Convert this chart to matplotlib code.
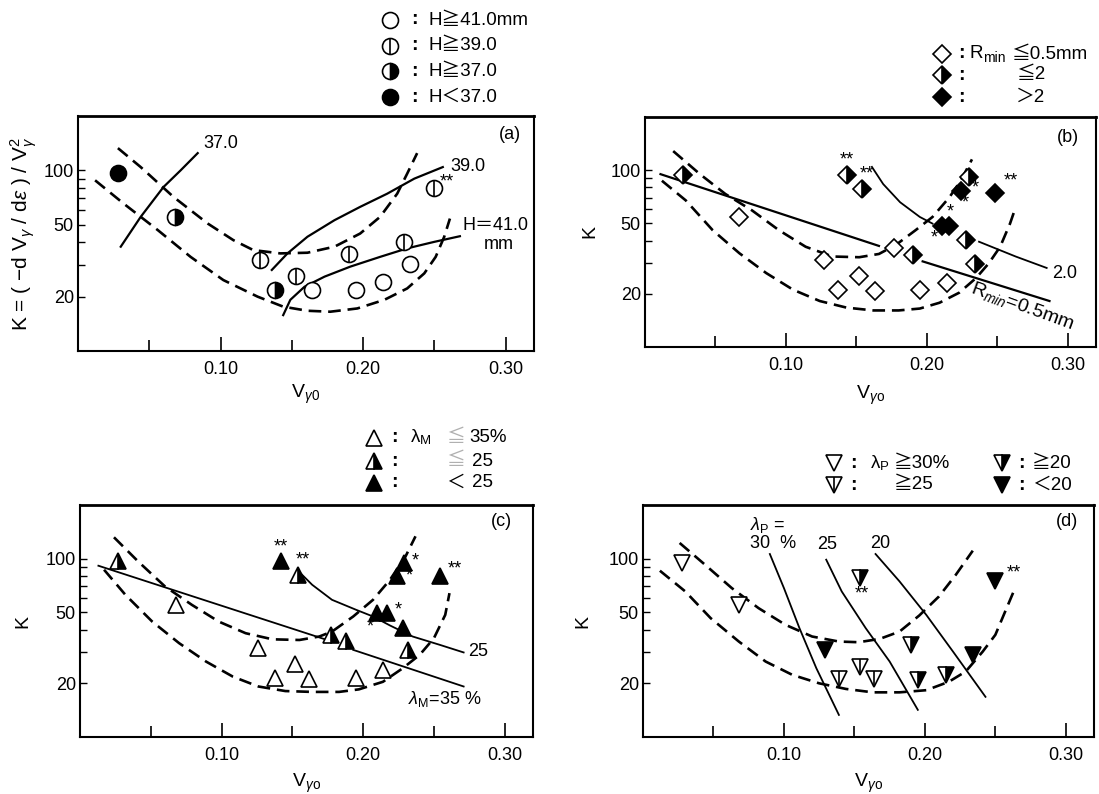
import numpy as np
import matplotlib.pyplot as plt
from matplotlib.lines import Line2D
from matplotlib.ticker import NullFormatter

plt.rcParams['font.family'] = ['Liberation Sans', 'Noto Sans CJK JP', 'DejaVu Sans']
plt.rcParams['mathtext.fontset'] = 'custom'
plt.rcParams['mathtext.rm'] = 'Liberation Sans'
plt.rcParams['mathtext.it'] = 'Liberation Sans:italic'

W, H = 1099, 794
nan = np.nan
FS = 13

#---------------- panel (a) : height H ----------------#
a_open_x = [0.164, 0.195, 0.214, 0.233]
a_open_y = [21.8, 21.8, 24.2, 30.5]
a_vline_x = [0.128, 0.153, 0.190, 0.229, 0.250]
a_vline_y = [31.9, 26.0, 34.4, 40.2, 80.2]
a_half_x = [0.068, 0.138]
a_half_y = [55.3, 21.8]
a_fill_x = [0.028]
a_fill_y = [96.7]
a_up_x = [0.028, 0.044, 0.067, 0.091, 0.109, 0.123, 0.142, 0.161, 0.180, 0.198, 0.212, 0.224, 0.231, 0.238]
a_up_y = [132.8, 104.3, 71.3, 50.8, 41.1, 36.2, 34.7, 35.0, 37.8, 44.7, 55.3, 74.3, 95.9, 124.6]
a_lo_x = [0.012, 0.032, 0.056, 0.079, 0.102, 0.126, 0.144, 0.161, 0.177, 0.196, 0.215, 0.231, 0.243, 0.251, 0.257, 0.261]
a_lo_y = [88.1, 65.5, 46.7, 33.2, 24.7, 20.0, 17.6, 16.7, 16.5, 17.2, 19.2, 22.2, 26.9, 33.2, 42.9, 54.1]
a_h37_x = [0.030, 0.044, 0.060, 0.072, 0.084]
a_h37_y = [37.8, 55.3, 80.9, 100.0, 124.6]
a_h39_x = [0.136, 0.147, 0.161, 0.180, 0.198, 0.217, 0.236, 0.256]
a_h39_y = [28.1, 34.7, 42.9, 53.0, 62.8, 74.3, 90.0, 104.3]
a_h41_x = [0.144, 0.149, 0.159, 0.173, 0.191, 0.212, 0.231, 0.250, 0.268]
a_h41_y = [15.8, 19.2, 22.7, 25.8, 29.3, 33.2, 37.0, 40.2, 43.2]

#---------------- panel (b) : Rmin ----------------#
b_open_x = [0.067, 0.127, 0.137, 0.152, 0.163, 0.177, 0.195, 0.214]
b_open_y = [54.4, 31.1, 20.9, 25.1, 20.7, 36.2, 20.9, 23.0]
b_half_x = [0.027, 0.143, 0.154, 0.190, 0.230, 0.228, 0.234]
b_half_y = [94.2, 94.2, 78.3, 33.2, 91.0, 40.3, 29.6]
b_fill_x = [0.224, 0.211, 0.216, 0.248]
b_fill_y = [76.6, 48.2, 48.2, 74.1]
b_up_x = [0.020, 0.039, 0.057, 0.076, 0.095, 0.114, 0.133, 0.152, 0.166, 0.178, 0.192, 0.204, 0.216, 0.224, 0.232]
b_up_y = [128.3, 95.0, 73.4, 59.2, 45.8, 36.9, 32.5, 32.2, 33.6, 37.8, 45.8, 54.4, 70.3, 87.2, 115.2]
b_lo_x = [0.012, 0.029, 0.048, 0.067, 0.086, 0.105, 0.124, 0.143, 0.162, 0.180, 0.195, 0.209, 0.223, 0.235, 0.244, 0.252, 0.259, 0.263]
b_lo_y = [87.2, 67.4, 45.8, 33.9, 26.2, 21.1, 18.2, 16.7, 16.1, 16.1, 16.5, 17.8, 20.3, 24.6, 29.8, 36.9, 49.9, 61.8]
b_r05_x = [0.011, 0.166, nan, 0.197, 0.287]
b_r05_y = [95.0, 37.3, nan, 30.5, 18.2]
b_r20_x = [0.161, 0.169, 0.181, 0.195, 0.204, nan, 0.237, 0.263, 0.285]
b_r20_y = [104.4, 83.5, 65.9, 54.4, 49.9, nan, 39.4, 32.5, 28.0]

#---------------- panel (c) : lambda M ----------------#
c_open_x = [0.068, 0.126, 0.138, 0.152, 0.162, 0.195, 0.214]
c_open_y = [55.1, 31.7, 21.3, 25.6, 21.1, 21.3, 23.8]
c_half_x = [0.027, 0.154, 0.177, 0.188, 0.232]
c_half_y = [96.6, 81.3, 37.4, 34.6, 30.8]
c_fill_x = [0.142, 0.229, 0.224, 0.210, 0.217, 0.228, 0.254]
c_fill_y = [97.4, 94.5, 79.6, 49.5, 49.5, 40.8, 79.6]
c_up_x = [0.024, 0.041, 0.060, 0.079, 0.098, 0.117, 0.136, 0.155, 0.169, 0.178, 0.193, 0.207, 0.219, 0.230, 0.237]
c_up_y = [131.8, 96.6, 69.9, 55.1, 44.4, 38.2, 35.3, 35.0, 36.6, 39.0, 47.4, 58.8, 76.2, 103.1, 133.5]
c_lo_x = [0.017, 0.032, 0.051, 0.070, 0.089, 0.108, 0.126, 0.145, 0.164, 0.183, 0.197, 0.214, 0.228, 0.240, 0.250, 0.258, 0.261]
c_lo_y = [86.7, 62.8, 44.4, 33.6, 26.5, 21.8, 19.2, 18.1, 17.9, 17.9, 18.5, 20.4, 24.3, 28.9, 35.8, 48.4, 64.1]
c_m35_x = [0.013, 0.178, nan, 0.193, 0.271]
c_m35_y = [91.3, 34.3, nan, 30.8, 19.2]
c_m25_x = [0.154, 0.164, 0.178, 0.195, 0.207, 0.219, 0.235, 0.254, 0.271]
c_m25_y = [85.6, 71.4, 58.8, 51.7, 47.4, 42.2, 36.6, 32.9, 29.8]

#---------------- panel (d) : lambda P ----------------#
d_open_x = [0.028, 0.068]
d_open_y = [94.5, 55.1]
d_vline_x = [0.139, 0.154, 0.164]
d_vline_y = [21.2, 24.8, 21.1]
d_half_x = [0.154, 0.190, 0.195, 0.215]
d_half_y = [77.9, 32.6, 20.9, 22.3]
d_fill_x = [0.129, 0.234, 0.250]
d_fill_y = [30.8, 28.9, 75.2]
d_up_x = [0.026, 0.044, 0.063, 0.082, 0.101, 0.120, 0.139, 0.153, 0.168, 0.182, 0.196, 0.210, 0.222, 0.234]
d_up_y = [122.5, 92.5, 68.4, 52.8, 42.6, 36.6, 34.3, 34.0, 35.5, 39.0, 48.0, 61.4, 81.3, 110.9]
d_lo_x = [0.012, 0.030, 0.048, 0.068, 0.087, 0.106, 0.125, 0.144, 0.163, 0.182, 0.201, 0.217, 0.229, 0.241, 0.250, 0.257, 0.263]
d_lo_y = [85.6, 65.5, 46.4, 34.3, 26.5, 22.3, 20.0, 18.6, 17.8, 17.8, 18.3, 20.4, 23.3, 30.1, 37.4, 50.6, 65.5]
d_p30_x = [0.090, 0.100, 0.111, 0.123, 0.139]
d_p30_y = [106.2, 68.4, 40.8, 24.3, 13.3]
d_p25_x = [0.130, 0.141, 0.158, 0.175, 0.195]
d_p25_y = [98.7, 65.5, 40.8, 26.5, 14.2]
d_p20_x = [0.165, 0.182, 0.201, 0.220, 0.243]
d_p20_y = [106.2, 74.6, 48.4, 30.1, 16.8]

#------------- figure ---------------#
fig = plt.figure(figsize=(W / 100, H / 100), dpi=100)

def px_axes(l, t, r, b):
    return fig.add_axes([l / W, 1 - b / H, (r - l) / W, (b - t) / H])

ax_a = px_axes(78, 116, 534, 351)
ax_b = px_axes(645, 117, 1096, 347)
ax_c = px_axes(80, 505, 533, 737)
ax_d = px_axes(643, 505, 1094, 737)

MEW = 1.2
DASH = dict(color='black', lw=1.9, dashes=(4.8, 2.6))
THICK = dict(color='black', lw=1.6)
THIN = dict(color='black', lw=1.3)
MS_O, MS_D, MS_T = 11.5, 9.0, 11.2


def pts(ax, xs, ys, marker, kind, ms, trans=None):
    kw = dict(ls='none', marker=marker, ms=ms, mec='black', mew=MEW, clip_on=False)
    if trans is not None:
        kw['transform'] = trans
    if kind == 'open' or kind == 'vline':
        kw.update(mfc='white')
    elif kind == 'half':
        kw.update(mfc='black', markerfacecoloralt='white', fillstyle='right')
    else:
        kw.update(mfc='black')
    if trans is None:
        ax.plot(xs, ys, **kw)
    else:
        fig.add_artist(Line2D(xs, ys, **kw))
    if kind == 'vline':
        kw2 = dict(ls='none', marker='|', ms=ms, mec='black', mew=MEW, clip_on=False)
        if trans is None:
            ax.plot(xs, ys, **kw2)
        else:
            kw2['transform'] = trans
            fig.add_artist(Line2D(xs, ys, **kw2))


def star(ax, x, y, s, dx, dy):
    # dx, dy offsets in pixels
    ax.annotate(s, (x, y), xytext=(dx * 0.72, dy * 0.72), textcoords='offset points',
                ha='center', va='center', fontsize=FS)


def setup(ax, tag, tagx, tagy, xlabel, xly, ylabel, ylx, ylfs=FS + 1):
    ax.set_yscale('log')
    ax.set_xlim(0, 0.32)
    ax.set_ylim(10, 200)
    ax.set_xticks([0.1, 0.2, 0.3])
    ax.set_xticklabels(['0.10', '0.20', '0.30'])
    ax.set_xticks([0.05, 0.15, 0.25], minor=True)
    ax.set_yticks([20, 50, 100])
    ax.set_yticklabels(['20', '50', '100'])
    ax.set_yticks([30, 40, 60, 70, 80, 90], minor=True)
    ax.yaxis.set_minor_formatter(NullFormatter())
    ax.tick_params(which='both', direction='in', labelsize=FS, colors='black')
    ax.tick_params(axis='x', which='major', length=10, width=1.2, pad=7)
    ax.tick_params(axis='x', which='minor', length=8, width=1.2)
    ax.tick_params(axis='y', which='both', length=5, width=1.0, pad=3)
    for sp in ax.spines.values():
        sp.set_linewidth(1.5)
    ax.spines['top'].set_linewidth(2.0)
    ax.text(tagx, tagy, tag, transform=ax.transAxes, ha='center', va='center', fontsize=FS)
    ax.set_xlabel(xlabel, fontsize=FS + 1, va='center')
    ax.xaxis.set_label_coords(0.5, xly)
    ax.set_ylabel(ylabel, fontsize=ylfs, va='center')
    ax.yaxis.set_label_coords(ylx, 0.5)


#---------- (a) ----------#
ax = ax_a
ax.plot(a_up_x, a_up_y, **DASH)
ax.plot(a_lo_x, a_lo_y, **DASH)
ax.plot(a_h37_x, a_h37_y, **THICK)
ax.plot(a_h39_x, a_h39_y, **THICK)
ax.plot(a_h41_x, a_h41_y, **THICK)
pts(ax, a_open_x, a_open_y, 'o', 'open', MS_O)
pts(ax, a_vline_x, a_vline_y, 'o', 'vline', MS_O)
pts(ax, a_half_x, a_half_y, 'o', 'half', MS_O)
pts(ax, a_fill_x, a_fill_y, 'o', 'fill', MS_O)
star(ax, a_vline_x[4], a_vline_y[4], '**', 13, 6)
ax.text(0.088, 140, '37.0', fontsize=FS, va='center')
ax.text(0.261, 105, '39.0', fontsize=FS, va='center')
ax.text(0.270, 49.7, 'H＝41.0', fontsize=FS, va='center')
ax.text(0.306, 39, 'mm', fontsize=FS, va='center', ha='right')
setup(ax, '(a)', 0.947, 0.92, r'V$_{\gamma 0}$', -0.185,
      r'K = ( $-$d V$_\gamma$ / d$\varepsilon$ ) / V$_\gamma^2$', -0.12, ylfs=15)

#---------- (b) ----------#
ax = ax_b
ax.plot(b_up_x, b_up_y, **DASH)
ax.plot(b_lo_x, b_lo_y, **DASH)
ax.plot(b_r05_x, b_r05_y, **THICK)
ax.plot(b_r20_x, b_r20_y, **THIN)
pts(ax, b_open_x, b_open_y, 'D', 'open', MS_D)
pts(ax, b_fill_x, b_fill_y, 'D', 'fill', MS_D)
pts(ax, b_half_x, b_half_y, 'D', 'half', MS_D)
star(ax, b_half_x[1], b_half_y[1], '**', 0, 15)
star(ax, b_half_x[2], b_half_y[2], '**', 5, 15)
star(ax, b_fill_x[0], b_fill_y[0], '*', 15, 3)
star(ax, b_fill_x[0], b_fill_y[0], '*', 5, -12)
star(ax, b_fill_x[1], b_fill_y[1], '*', -8, -12)
star(ax, b_fill_x[2], b_fill_y[2], '*', 1, 14)
star(ax, b_fill_x[3], b_fill_y[3], '**', 16, 12)
ax.text(0.289, 26.2, '2.0', fontsize=FS, va='center')
ax.text(0.268, 17.0, r'R$_{min}$=0.5mm', fontsize=FS + 1, ha='center', va='center',
        rotation=-20, rotation_mode='anchor')
setup(ax, '(b)', 0.938, 0.909, r'V$_{\gamma\mathrm{o}}$', -0.21, 'K', -0.122)

#---------- (c) ----------#
ax = ax_c
ax.plot(c_up_x, c_up_y, **DASH)
ax.plot(c_lo_x, c_lo_y, **DASH)
ax.plot(c_m35_x, c_m35_y, **THIN)
ax.plot(c_m25_x, c_m25_y, **THIN)
pts(ax, c_open_x, c_open_y, '^', 'open', MS_T)
pts(ax, c_half_x, c_half_y, '^', 'half', MS_T)
pts(ax, c_fill_x, c_fill_y, '^', 'fill', MS_T)
star(ax, c_fill_x[0], c_fill_y[0], '**', 0, 14)
star(ax, c_half_x[1], c_half_y[1], '**', 5, 15)
star(ax, c_fill_x[1], c_fill_y[1], '*', 11, 2)
star(ax, c_fill_x[2], c_fill_y[2], '*', 12, 0)
star(ax, c_fill_x[3], c_fill_y[3], '*', -7, -14)
star(ax, c_fill_x[4], c_fill_y[4], '*', 11, 3)
star(ax, c_fill_x[6], c_fill_y[6], '**', 15, 7)
ax.text(0.274, 30.0, '25', fontsize=FS, va='center')
ax.text(0.232, 16.3, r'$\lambda_{\rm M}$=35 %', fontsize=FS, va='center')
setup(ax, '(c)', 0.93, 0.93, r'V$_{\gamma\mathrm{o}}$', -0.198, 'K', -0.126)

#---------- (d) ----------#
ax = ax_d
ax.plot(d_up_x, d_up_y, **DASH)
ax.plot(d_lo_x, d_lo_y, **DASH)
ax.plot(d_p30_x, d_p30_y, **THIN)
ax.plot(d_p25_x, d_p25_y, **THIN)
ax.plot(d_p20_x, d_p20_y, **THIN)
pts(ax, d_open_x, d_open_y, 'v', 'open', MS_T)
pts(ax, d_vline_x, d_vline_y, 'v', 'vline', MS_T)
pts(ax, d_half_x, d_half_y, 'v', 'half', MS_T)
pts(ax, d_fill_x, d_fill_y, 'v', 'fill', MS_T)
star(ax, d_half_x[0], d_half_y[0], '**', 2, -16)
star(ax, d_fill_x[2], d_fill_y[2], '**', 18, 8)
ax.text(0.076, 138, '$\\lambda_{\\rm P}$ =\n30  %', fontsize=FS, va='center', linespacing=1.0)
ax.text(0.1237, 120, '25', fontsize=FS, va='center')
ax.text(0.1608, 121, '20', fontsize=FS, va='center')
setup(ax, '(d)', 0.94, 0.927, r'V$_{\gamma\mathrm{o}}$', -0.198, 'K', -0.133)

#------------- legends above panels (figure pixels) ---------------#
def ftxt(px, py, s, **kw):
    kw.setdefault('fontsize', FS + 0.5)
    fig.text(px / W, 1 - py / H, s, ha='left', va='center', **kw)

def fmark(px, py, marker, kind, ms):
    pts(None, [px / W], [1 - py / H], marker, kind, ms, trans=fig.transFigure)

def colon(px, py):
    ftxt(px, py, ':', fontweight='bold', fontsize=14)

# (a)
leg_a = [('open', 'H≧41.0mm'), ('vline', 'H≧39.0'), ('half', 'H≧37.0'), ('fill', 'H＜37.0')]
for i, (kind, lab) in enumerate(leg_a):
    yy = 20 + i * 25.7
    fmark(390, yy, 'o', kind, MS_O)
    colon(411, yy)
    ftxt(428, yy, lab)

# (b)
leg_b_y = [54, 75, 97]
for kind, yy in zip(['open', 'half', 'fill'], leg_b_y):
    fmark(942, yy, 'D', kind, MS_D)
    colon(958, yy)
ftxt(970, 54, 'R')
ftxt(983, 58, 'min', fontsize=10)
ftxt(1011, 54, '≦0.5mm')
ftxt(1016, 75, '≦2')
ftxt(1016, 97, '＞2')

# (c)
leg_c_y = [438, 461, 483]
for kind, yy in zip(['open', 'half', 'fill'], leg_c_y):
    fmark(374, yy, '^', kind, MS_T)
    colon(391, yy)
ftxt(411, 438, 'λ')
ftxt(420, 441, 'M', fontsize=9.5)
ftxt(446, 438, '≦', color='#b0b0b0')
ftxt(469, 438, '35%')
ftxt(446, 461, '≦', color='#b0b0b0')
ftxt(472, 461, '25')
ftxt(446, 483, '＜')
ftxt(472, 483, '25')

# (d)
fmark(834, 463, 'v', 'open', MS_T)
colon(850, 463)
ftxt(871, 463, 'λ')
ftxt(880, 467, 'P', fontsize=9.5)
ftxt(894, 463, '≧30%')
fmark(834, 485, 'v', 'vline', MS_T)
colon(850, 485)
ftxt(894, 485, '≧25')
fmark(1002, 463, 'v', 'half', MS_T)
colon(1018, 463)
ftxt(1032, 463, '≧20')
fmark(1002, 485, 'v', 'fill', MS_T)
colon(1018, 485)
ftxt(1032, 485, '＜20')

fig.savefig('out.png', dpi=100)
